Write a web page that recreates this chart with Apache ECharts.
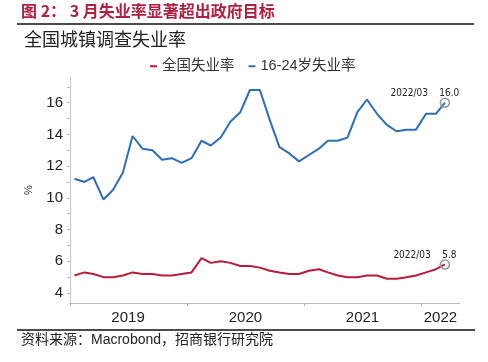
<!DOCTYPE html>
<html><head><meta charset="utf-8">
<script src="https://cdn.jsdelivr.net/npm/echarts@6/dist/echarts.min.js"></script>
<style>html,body{margin:0;padding:0;background:#fff}#c{width:488px;height:362px}</style>
</head><body><div id="c"></div>
<script>
const months = ['2019-01','2019-02','2019-03','2019-04','2019-05','2019-06','2019-07','2019-08','2019-09','2019-10','2019-11','2019-12',
 '2020-01','2020-02','2020-03','2020-04','2020-05','2020-06','2020-07','2020-08','2020-09','2020-10','2020-11','2020-12',
 '2021-01','2021-02','2021-03','2021-04','2021-05','2021-06','2021-07','2021-08','2021-09','2021-10','2021-11','2021-12',
 '2022-01','2022-02','2022-03'];
const youthRate = [11.2,11.0,11.3,9.9,10.5,11.6,13.9,13.1,13.0,12.4,12.5,12.2,
 12.5,13.6,13.3,13.8,14.8,15.4,16.8,16.8,14.9,13.2,12.8,12.3,
 12.7,13.1,13.6,13.6,13.8,15.4,16.2,15.3,14.6,14.2,14.3,14.3,
 15.3,15.3,16.0];
const nationalRate = [5.1,5.3,5.2,5.0,5.0,5.1,5.3,5.2,5.2,5.1,5.1,5.2,
 5.3,6.2,5.9,6.0,5.9,5.7,5.7,5.6,5.4,5.3,5.2,5.2,
 5.4,5.5,5.3,5.1,5.0,5.0,5.1,5.1,4.9,4.9,5.0,5.1,
 5.3,5.5,5.8];
const yearTicks = ['2019-01-01','2020-01-01','2021-01-01','2022-01-01'];
const yearLabelPos = ['2019-07-01','2020-07-01','2021-07-01','2022-03-01'];
const yearLabels = ['2019','2020','2021','2022'];
const yLabelValues = [4,6,8,10,12,14,16];
const yTickValues = [4,5,6,7,8,9,10,11,12,13,14,15,16,17];
const seriesNames = ['全国失业率','16-24岁失业率'];

const P = s => { const [y,m,d] = s.split('-').map(Number); return Date.UTC(y, m-1, d); };
const toData = arr => months.map((m,i)=>[P(m+'-15'), arr[i]]);
const lastIdx = months.length - 1;
const labelPosMap = {};
yearLabelPos.forEach((d,i)=>{ labelPosMap[P(d)] = yearLabels[i]; });

function endMark(arr){
  const last = arr[lastIdx];
  return {
    symbol: 'circle', symbolSize: 9, silent: true,
    itemStyle: {color: 'rgba(255,255,255,0)', borderColor: '#9a9a9a', borderWidth: 1.6},
    label: {show: true, position: 'inside', offset: [-20, -9], color: '#222', fontSize: 10,
      fontFamily: 'Liberation Sans Narrow, DejaVu Sans Condensed, Liberation Sans',
      formatter: months[lastIdx].replace('-','/') + '    ' + last.toFixed(1)},
    data: [{coord: [P(months[lastIdx]+'-15'), last]}]
  };
}

const chart = echarts.init(document.getElementById('c'), null, {renderer:'canvas'});
chart.setOption({
  animation: false,
  textStyle: {fontFamily: 'Liberation Sans, Noto Sans CJK SC, sans-serif'},
  grid: {left: 70, right: 28, top: 77, bottom: 59},
  legend: {
    top: 54, left: 145, itemWidth: 7, itemHeight: 2, itemGap: 14, icon: 'rect',
    textStyle: {fontSize: 14.5, color: '#333', fontFamily: 'Liberation Sans, Noto Sans CJK SC'},
    data: seriesNames
  },
  xAxis: {
    type: 'value', min: P('2019-01-01'), max: P('2022-05-01'),
    axisLine: {lineStyle: {color: '#c0c0c0', width: 1}},
    axisTick: {show: true, length: 3, lineStyle: {color: '#b0b0b0'}, customValues: yearTicks.map(P)},
    axisLabel: {customValues: yearLabelPos.map(P), formatter: v => labelPosMap[v] || '', color: '#222', fontSize: 15, margin: 7},
    splitLine: {show: false}
  },
  yAxis: {
    type: 'value', min: 3.37, max: 17.62,
    name: '%', nameLocation: 'middle', nameGap: 36, nameRotate: 90,
    nameTextStyle: {fontSize: 11, color: '#333'},
    axisLine: {show: true, lineStyle: {color: '#c8c8c8'}},
    axisTick: {show: true, length: 3, lineStyle: {color: '#c0c0c0'}, customValues: yTickValues},
    axisLabel: {customValues: yLabelValues, color: '#222', fontSize: 15, margin: 7},
    splitLine: {show: false}
  },
  series: [
    {name: seriesNames[0], type: 'line', data: toData(nationalRate), showSymbol: false, symbol: 'none',
     lineStyle: {color: '#b71c3c', width: 2}, itemStyle: {color: '#b71c3c'}, markPoint: endMark(nationalRate), z: 3},
    {name: seriesNames[1], type: 'line', data: toData(youthRate), showSymbol: false, symbol: 'none',
     lineStyle: {color: '#2f6db5', width: 2}, itemStyle: {color: '#2f6db5'}, markPoint: endMark(youthRate), z: 2}
  ],
  graphic: [
    {type: 'text', left: 21, top: 3, style: {text: '图 2： 3 月失业率显著超出政府目标', fill: '#b0203f', fontSize: 16, fontWeight: 'bold', fontFamily: 'Noto Sans CJK SC, Liberation Sans'}},
    {type: 'line', shape: {x1: 17, y1: 24, x2: 474, y2: 24}, style: {stroke: '#111', lineWidth: 1.5}},
    {type: 'text', left: 24, top: 30, style: {text: '全国城镇调查失业率', fill: '#222', fontSize: 18, fontFamily: 'Noto Sans CJK SC'}},
    {type: 'line', shape: {x1: 17, y1: 330, x2: 475, y2: 330}, style: {stroke: '#111', lineWidth: 1.5}},
    {type: 'text', left: 21, top: 333, style: {text: '资料来源：Macrobond，招商银行研究院', fill: '#222', fontSize: 14, fontFamily: 'Liberation Sans, Noto Sans CJK SC'}}
  ]
});
</script></body></html>
